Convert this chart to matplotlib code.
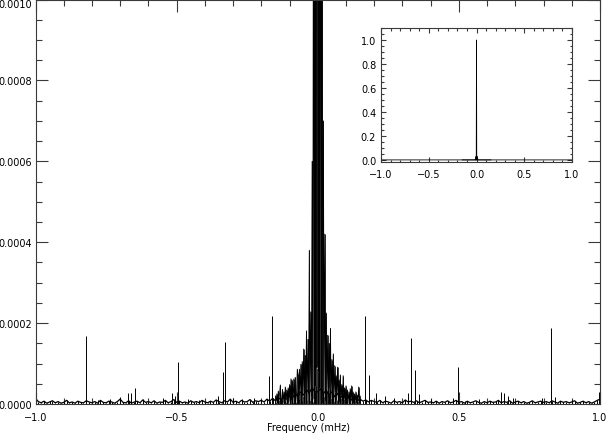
import numpy as np
import matplotlib
matplotlib.use('Agg')
import matplotlib.pyplot as plt
from matplotlib.ticker import MultipleLocator, FuncFormatter

# Spectral window, powers in units of 1e-6
# noise floor on a 0.01 mHz grid from -1.00 to 1.00
noise_power = [
    14, 6, 3, 7, 2, 5, 8, 3, 6, 2, 4, 9, 3, 5, 2, 7, 4, 3, 8, 5,
    3, 6, 2, 9, 4, 3, 7, 5, 2, 6, 12, 4, 3, 8, 2, 5, 7, 3, 10, 4,
    6, 3, 8, 2, 5, 4, 9, 3, 6, 11, 4, 7, 3, 5, 2, 8, 4, 6, 3, 9,
    5, 3, 7, 4, 10, 6, 3, 8, 5, 12, 4, 7, 3, 9, 5, 6, 11, 4, 8, 6,
    9, 5, 12, 7, 14, 8, 16, 10, 18, 12, 20, 15, 25, 18, 30, 22, 35, 28, 40, 30,
    30, 38, 26, 34, 22, 30, 18, 26, 15, 22, 12, 18, 10, 15, 8, 12, 7, 10, 5, 9,
    6, 4, 9, 3, 7, 5, 2, 8, 4, 6, 3, 10, 5, 7, 4, 8, 3, 6, 9, 4,
    5, 3, 7, 2, 6, 4, 8, 3, 5, 9, 4, 6, 2, 7, 3, 5, 8, 4, 2, 6,
    3, 7, 4, 5, 9, 3, 6, 4, 8, 2, 5, 7, 3, 6, 2, 4, 8, 3, 5, 7,
    4, 6, 3, 8, 5, 2, 7, 4, 6, 3, 5, 8, 2, 4, 7, 3, 6, 2, 5, 9,
    12,
]

# central peak, 0.0025 mHz steps outward from zero
core_peak = 1000000
core_pos = [
    80, 30000, 40, 4000, 10, 1500, 3, 700, 20, 420,
    8, 225, 30, 170, 12, 150, 40, 187, 15, 110,
    25, 124, 8, 95, 30, 70, 10, 91, 20, 60,
    6, 72, 15, 48, 5, 70, 12, 40, 4, 45,
    10, 35, 3, 30, 8, 38, 2, 45, 6, 30,
    3, 25, 9, 30, 4, 22, 7, 42, 3, 20,
]
core_neg = [
    90, 28000, 45, 3500, 12, 1800, 4, 600, 18, 228,
    10, 380, 25, 160, 9, 181, 30, 120, 14, 136,
    20, 105, 7, 98, 28, 86, 12, 75, 86, 30,
    5, 66, 14, 62, 4, 58, 10, 62, 6, 48,
    3, 40, 11, 35, 5, 42, 8, 30, 3, 36,
    9, 4, 47, 28, 10, 32, 3, 25, 6, 20,
]

# isolated spikes (alias peaks and stray lines)
spike_freq = [-0.997, -0.95, -0.822, -0.78, -0.737, -0.70, -0.673, -0.660, -0.648, -0.62,
              -0.548, -0.516, -0.505, -0.494, -0.46, -0.42, -0.353, -0.334, -0.327, -0.30,
              -0.27, -0.226, -0.174, -0.163, 0.168, 0.180, 0.206, 0.24, 0.27, 0.319,
              0.332, 0.345, 0.36, 0.40, 0.48, 0.497, 0.52, 0.57, 0.63, 0.651,
              0.661, 0.675, 0.69, 0.794, 0.827, 0.842, 0.90, 0.998]
spike_power = [15, 8, 169, 10, 13, 17, 27, 28, 39, 12,
               14, 27, 20, 104, 12, 10, 20, 80, 154, 14,
               12, 15, 70, 217, 217, 72, 27, 20, 14, 27,
               162, 85, 25, 12, 15, 92, 8, 13, 8, 29,
               27, 20, 15, 15, 189, 17, 10, 29]

U = 1e-6
noise_f = np.linspace(-1.0, 1.0, len(noise_power))
noise_p = np.array(noise_power) * U
step = 0.0025
core_f = np.concatenate([-step * np.arange(len(core_neg), 0, -1), [0.0],
                         step * np.arange(1, len(core_pos) + 1)])
core_p = np.concatenate([core_neg[::-1], [core_peak], core_pos]) * U
spike_f = np.array(spike_freq)
spike_p = np.array(spike_power) * U

ink = '#000000'
axc = '#3a3a3a'
plt.rcParams['font.family'] = 'DejaVu Sans'
plt.rcParams['font.size'] = 7


def fmt(nd):
    return FuncFormatter(lambda v, pos: f'{v:.{nd}f}'.replace('-', '\u2212'))


fig = plt.figure(figsize=(6.07, 4.35), dpi=100)
ax = fig.add_axes([35.5 / 607, 30 / 435, 564.5 / 607, 404.5 / 435])

ax.plot(noise_f, noise_p, color=ink, lw=0.9)
ax.vlines(noise_f, 0, noise_p, color=ink, lw=0.7)
ax.plot(core_f, core_p, color=ink, lw=0.6)
ax.vlines(core_f, 0, core_p, color=ink, lw=0.55)
ax.vlines(spike_f, 0, spike_p, color=ink, lw=0.7)

ax.set_xlim(-1.0, 1.0)
ax.set_ylim(0, 0.0010)
ax.xaxis.set_major_locator(MultipleLocator(0.5))
ax.xaxis.set_minor_locator(MultipleLocator(0.1))
ax.yaxis.set_major_locator(MultipleLocator(0.0002))
ax.yaxis.set_minor_locator(MultipleLocator(0.00005))
ax.xaxis.set_major_formatter(fmt(1))
ax.yaxis.set_major_formatter(fmt(4))
ax.tick_params(which='both', direction='in', top=True, right=True, color=axc, width=0.8)
ax.tick_params(which='major', length=8.5)
ax.tick_params(which='minor', length=4)
ax.tick_params(axis='x', which='major', pad=5.5)
ax.tick_params(axis='y', which='major', pad=2.3)
for s in ax.spines.values():
    s.set_color(axc)
    s.set_linewidth(0.8)
ax.set_xlabel('Frequency (mHz)', labelpad=2)
ax.xaxis.set_label_coords(0.484, -0.045)

# top label sits just below the figure edge, as in the original
fig.canvas.draw()
for lab in ax.get_yticklabels():
    if lab.get_text() == '0.0010':
        lab.set_verticalalignment('top')

# inset: full scale of the window
ins = fig.add_axes([381 / 607, (435 - 163.3) / 435, 191 / 607, 134.3 / 435])
ins.plot(noise_f, noise_p, color=ink, lw=0.6)
ins.plot(core_f, core_p, color=ink, lw=0.6)
ins.set_xlim(-1.0, 1.0)
ins.set_ylim(-0.02, 1.1)
ins.xaxis.set_major_locator(MultipleLocator(0.5))
ins.xaxis.set_minor_locator(MultipleLocator(0.1))
ins.yaxis.set_major_locator(MultipleLocator(0.2))
ins.yaxis.set_minor_locator(MultipleLocator(0.05))
ins.xaxis.set_major_formatter(fmt(1))
ins.yaxis.set_major_formatter(fmt(1))
ins.tick_params(which='both', direction='in', top=True, right=True, color=axc, width=0.8)
ins.tick_params(which='major', length=3.5)
ins.tick_params(which='minor', length=1.8)
ins.tick_params(axis='x', which='major', pad=5)
ins.tick_params(axis='y', which='major', pad=3.5)
for s in ins.spines.values():
    s.set_color(axc)
    s.set_linewidth(0.8)

fig.savefig('out.png', dpi=100)
